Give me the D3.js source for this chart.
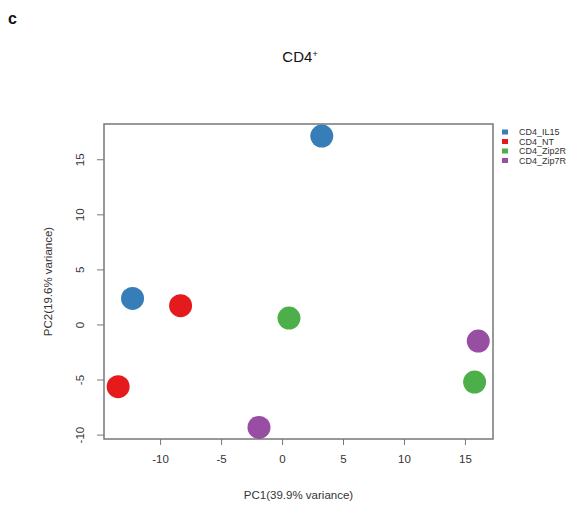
<!DOCTYPE html>
<html>
<head>
<meta charset="utf-8">
<script src="https://cdn.jsdelivr.net/npm/d3@7"></script>
<style>
  body { margin: 0; background: #fff; }
  svg { font-family: "Liberation Sans", Arial, sans-serif; }
  .axis path, .axis line { stroke: #777; }
  .axis text { fill: #333; font-size: 11.5px; }
</style>
</head>
<body>
<svg width="576" height="508"></svg>
<script>
// groups, one colour each
var groups = ['CD4_IL15', 'CD4_NT', 'CD4_Zip2R', 'CD4_Zip7R'];
var colors = ['#377EB8', '#E41A1C', '#4DAF4A', '#984EA3'];

// sample scores, two per group
var sampleGroup = ['CD4_IL15', 'CD4_IL15', 'CD4_NT', 'CD4_NT', 'CD4_Zip2R', 'CD4_Zip2R', 'CD4_Zip7R', 'CD4_Zip7R'];
var pc1 = [3.26, -12.26, -8.32, -13.44, 0.57, 15.79, -1.89, 16.09];
var pc2 = [17.1, 2.36, 1.70, -5.65, 0.58, -5.23, -9.35, -1.51];

var xTicks = [-10, -5, 0, 5, 10, 15];
var yTicks = [-10, -5, 0, 5, 10, 15];

var svg = d3.select('svg'),
    margin = {top: 124, right: 83, bottom: 69, left: 104},
    width  = +svg.attr('width') - margin.left - margin.right,
    height = +svg.attr('height') - margin.top - margin.bottom;

var x = d3.scaleLinear().domain([-14.6, 17.3]).range([0, width]),
    y = d3.scaleLinear().domain([-10.4, 18.2]).range([height, 0]),
    color = d3.scaleOrdinal().domain(groups).range(colors);

var g = svg.append('g')
    .attr('transform', 'translate(' + margin.left + ',' + margin.top + ')');

// x axis, ticks only; the box is drawn below
g.append('g')
    .attr('class', 'axis')
    .attr('transform', 'translate(0,' + height + ')')
    .call(d3.axisBottom(x).tickValues(xTicks).tickFormat(String).tickSize(6).tickPadding(10))
    .call(function(a) { a.select('.domain').remove(); });

// y axis, labels turned parallel to the axis like R
g.append('g')
    .attr('class', 'axis')
    .call(d3.axisLeft(y).tickValues(yTicks).tickFormat(String).tickSize(7))
    .call(function(a) { a.select('.domain').remove(); })
    .selectAll('text')
      .attr('transform', 'rotate(-90)')
      .attr('x', 0).attr('y', -24).attr('dy', '0.35em')
      .attr('text-anchor', 'middle');

// box
g.append('rect')
    .attr('width', width)
    .attr('height', height)
    .attr('fill', 'none')
    .attr('stroke', '#777')
    .attr('stroke-width', 1.5);

// points
g.selectAll('.dot')
  .data(pc1)
  .enter().append('circle')
    .attr('class', 'dot')
    .attr('cx', function(d) { return x(d); })
    .attr('cy', function(d, i) { return y(pc2[i]); })
    .attr('r', 11.5)
    .attr('fill', function(d, i) { return color(sampleGroup[i]); });

// axis titles
svg.append('text')
    .attr('x', margin.left + width / 2)
    .attr('y', 499)
    .attr('text-anchor', 'middle')
    .attr('font-size', 11.5)
    .attr('fill', '#333')
    .text('PC1(39.9% variance)');

svg.append('text')
    .attr('transform', 'translate(52,' + (margin.top + height / 2) + ') rotate(-90)')
    .attr('text-anchor', 'middle')
    .attr('font-size', 11.5)
    .attr('fill', '#333')
    .text('PC2(19.6% variance)');

// legend
var legend = svg.append('g')
    .attr('transform', 'translate(502,132)');
var item = legend.selectAll('.item')
  .data(groups)
  .enter().append('g')
    .attr('class', 'item')
    .attr('transform', function(d, i) { return 'translate(0,' + i * 9.5 + ')'; });
item.append('rect')
    .attr('x', 0).attr('y', -2.5)
    .attr('width', 6).attr('height', 5)
    .attr('fill', function(d) { return color(d); });
item.append('text')
    .attr('x', 17).attr('dy', '0.35em')
    .attr('font-size', 9)
    .attr('fill', '#333')
    .text(function(d) { return d; });

// title and panel letter
var title = svg.append('text')
    .attr('x', 300).attr('y', 62)
    .attr('text-anchor', 'middle')
    .attr('font-size', 15)
    .attr('fill', '#111');
title.append('tspan').text('CD4');
title.append('tspan').attr('font-size', 9).attr('dy', -5).text('+');

svg.append('text')
    .attr('x', 8).attr('y', 24)
    .attr('font-size', 16)
    .attr('font-weight', 'bold')
    .attr('fill', '#111')
    .text('c');
</script>
</body>
</html>
